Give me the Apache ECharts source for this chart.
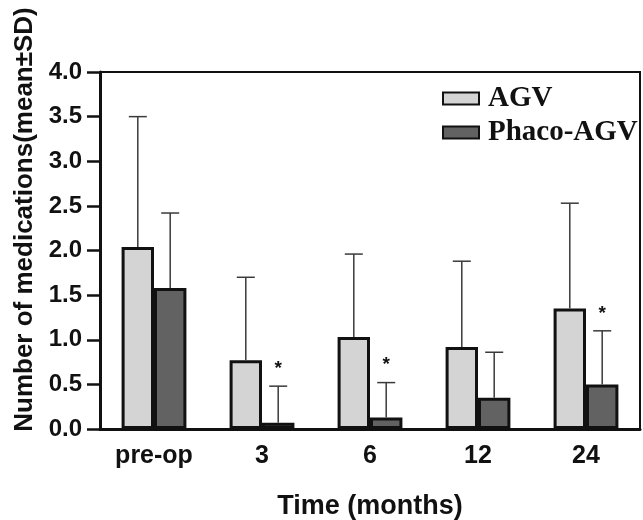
<!DOCTYPE html>
<html>
<head>
<meta charset="utf-8">
<script src="https://cdn.jsdelivr.net/npm/echarts@6/dist/echarts.min.js"></script>
<style>
  html, body { margin: 0; padding: 0; background: #fff; }
  #chart { width: 643px; height: 520px; }
</style>
</head>
<body>
<div id="chart"></div>
<script>
var categories = ['pre-op', '3', '6', '12', '24'];
var agvMean = [2.04, 0.77, 1.03, 0.92, 1.35];
var agvSd = [1.46, 0.93, 0.93, 0.96, 1.18];
var phacoMean = [1.58, 0.07, 0.13, 0.35, 0.50];
var phacoSd = [0.84, 0.41, 0.39, 0.51, 0.60];
var phacoStar = [false, true, true, false, true];
var yTicks = ['0.0', '0.5', '1.0', '1.5', '2.0', '2.5', '3.0', '3.5', '4.0'];

var chart = echarts.init(document.getElementById('chart'));

// bars take 30% of the band each, side by side
var BAR_FRAC = 0.3;

function errorBars(means, sds, side, stars) {
    let data = means.map(function(m, i) {
        return [i, m, m + sds[i], stars && stars[i] ? 1 : 0];
    });
    return {
        type: 'custom',
        data: data,
        z: 3,
        silent: true,
        renderItem: function(params, api) {
            let band = api.size([1, 0])[0];
            let base = api.coord([api.value(0), api.value(1)]);
            let top = api.coord([api.value(0), api.value(2)]);
            let x = base[0] + side * band * BAR_FRAC / 2;
            let cap = 9;
            let style = { stroke: '#3a3a3a', lineWidth: 1.5 };
            let children = [
                { type: 'line', shape: { x1: x, y1: base[1], x2: x, y2: top[1] }, style: style },
                { type: 'line', shape: { x1: x - cap, y1: top[1], x2: x + cap, y2: top[1] }, style: style }
            ];
            if (api.value(3)) {
                children.push({
                    type: 'text',
                    style: {
                        text: '*', x: x, y: top[1] - 8,
                        fill: '#111', font: 'bold 19px "Liberation Sans"',
                        align: 'center', verticalAlign: 'bottom'
                    }
                });
            }
            return { type: 'group', children: children };
        }
    };
}

var option = {
    animation: false,
    backgroundColor: '#fff',
    grid: { left: 100, right: 3, top: 72, bottom: 91, outerBoundsMode: 'none' },
    legend: {
        orient: 'vertical',
        left: 437,
        top: 79,
        icon: 'rect',
        itemWidth: 36,
        itemHeight: 12,
        itemGap: 5,
        data: ['AGV', 'Phaco-AGV'],
        textStyle: { fontFamily: 'Liberation Serif', fontWeight: 'bold', fontSize: 29, color: '#111', padding: [0, 0, 0, 4] }
    },
    xAxis: {
        type: 'category',
        data: categories,
        name: 'Time (months)',
        nameLocation: 'middle',
        nameGap: 64,
        nameTextStyle: { fontFamily: 'Liberation Sans', fontWeight: 'bold', fontSize: 27, color: '#111' },
        axisLine: { lineStyle: { color: '#111', width: 3 } },
        axisTick: { show: false },
        axisLabel: { margin: 15, fontFamily: 'Liberation Sans', fontWeight: 'bold', fontSize: 25, color: '#111' }
    },
    yAxis: {
        type: 'value',
        min: 0,
        max: 4,
        interval: 0.5,
        name: 'Number of medications(mean±SD)',
        nameLocation: 'middle',
        nameGap: 62,
        nameTextStyle: {
            fontFamily: 'Liberation Sans', fontWeight: 'bold', fontSize: 26, color: '#111',
            padding: [0, 0, 0, 62]
        },
        axisLine: { show: true, lineStyle: { color: '#111', width: 3 } },
        axisTick: { show: true, length: 13, lineStyle: { color: '#111', width: 2.5 } },
        splitLine: { show: false },
        axisLabel: {
            margin: 18,
            fontFamily: 'Liberation Sans', fontWeight: 'bold', fontSize: 24, color: '#111',
            formatter: function(v) { return yTicks[Math.round(v * 2)]; }
        }
    },
    series: [
        {
            name: 'AGV',
            type: 'bar',
            data: agvMean,
            barWidth: '30%',
            barGap: '0%',
            itemStyle: { color: '#d4d4d4', borderColor: '#111', borderWidth: 3 }
        },
        {
            name: 'Phaco-AGV',
            type: 'bar',
            data: phacoMean,
            barWidth: '30%',
            barGap: '0%',
            itemStyle: { color: '#626262', borderColor: '#111', borderWidth: 3 }
        },
        errorBars(agvMean, agvSd, -1, null),
        errorBars(phacoMean, phacoSd, 1, phacoStar)
    ],
    graphic: [{
        // top and right frame lines of the plot box
        type: 'polyline',
        shape: { points: [[100, 72], [640, 72], [640, 429]] },
        style: { stroke: '#111', lineWidth: 2, fill: null }
    }]
};

chart.setOption(option);
</script>
</body>
</html>
